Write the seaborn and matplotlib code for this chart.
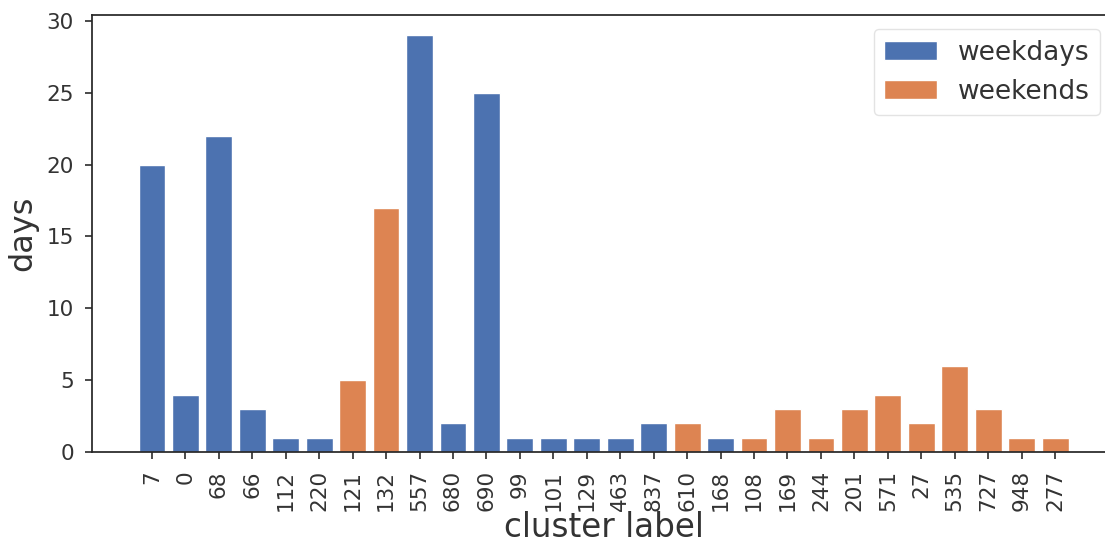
import matplotlib
matplotlib.use("Agg")
import matplotlib.pyplot as plt
import seaborn as sns
import pandas as pd

clusters = ["7", "0", "68", "66", "112", "220", "121", "132", "557", "680",
            "690", "99", "101", "129", "463", "837", "610", "168", "108", "169",
            "244", "201", "571", "27", "535", "727", "948", "277"]
days = [20, 4, 22, 3, 1, 1, 5, 17, 29, 2,
        25, 1, 1, 1, 1, 2, 2, 1, 1, 3,
        1, 3, 4, 2, 6, 3, 1, 1]
kind = ["weekdays", "weekdays", "weekdays", "weekdays", "weekdays", "weekdays",
        "weekends", "weekends", "weekdays", "weekdays", "weekdays", "weekdays",
        "weekdays", "weekdays", "weekdays", "weekdays", "weekends", "weekdays",
        "weekends", "weekends", "weekends", "weekends", "weekends", "weekends",
        "weekends", "weekends", "weekends", "weekends"]
kinds = ["weekdays", "weekends"]

df = pd.DataFrame({"cluster label": clusters, "days": days, "type": kind})

sns.set_theme(style="ticks", palette="deep")
plt.rcParams["font.family"] = ["DejaVu Sans"]

W, H = 1105, 545
fig = plt.figure(figsize=(W / 100, H / 100), dpi=100)
ax = fig.add_axes([92 / W, (H - 452) / H, (1115 - 92) / W, (452 - 14.5) / H])

sns.barplot(data=df, x="cluster label", y="days", hue="type", order=clusters,
            hue_order=kinds, dodge=False, width=0.8, saturation=1,
            edgecolor="white", linewidth=1, ax=ax)

n = len(clusters)
m = 0.05 * (n - 1 + 0.8)
ax.set_xlim(-0.4 - m, n - 1 + 0.4 + m)
ax.set_ylim(0, max(days) * 1.05)
ax.set_yticks([0, 5, 10, 15, 20, 25, 30])

ax.tick_params(axis="both", labelsize=15.5, colors=".2", length=5, pad=8,
               width=1.25)
ax.tick_params(axis="x", labelrotation=90)
ax.set_xlabel("cluster label", fontsize=23.5, color=".2", labelpad=0)
ax.set_ylabel("days", fontsize=23, color=".2", labelpad=6)

for s in ax.spines.values():
    s.set_color(".15")
    s.set_linewidth(1.25)

leg = ax.legend(loc="upper right", fontsize=19, title=None, frameon=True,
                borderaxespad=0.55)
leg.get_frame().set_edgecolor("#dddddd")
for t in leg.get_texts():
    t.set_color(".2")

fig.savefig("out.png", dpi=100)
